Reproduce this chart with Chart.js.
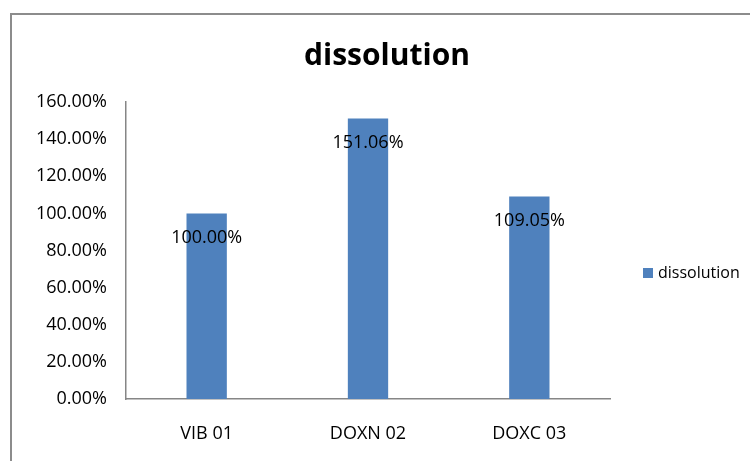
<!DOCTYPE html>
<html>
<head>
<meta charset="utf-8">
<script src="https://cdn.jsdelivr.net/npm/chart.js@4"></script>
<style>
  html, body { margin: 0; padding: 0; background: #ffffff; }
  #wrap { width: 750px; height: 461px; position: relative; }
</style>
</head>
<body>
<div id="wrap"><canvas id="c" width="750" height="461"></canvas></div>
<script>
// Chart content
const chartTitle = 'dissolution';
const seriesName = 'dissolution';
const categories = ['VIB 01', 'DOXN 02', 'DOXC 03'];
const dissolution = [100.00, 151.06, 109.05];
const yTickValues = [0, 20, 40, 60, 80, 100, 120, 140, 160];

const FONT = '"Open Sans", "DejaVu Sans", sans-serif';
const BAR_COLOR = '#4F81BD';
const AXIS_COLOR = '#868686';

const fmtPct = v => v.toFixed(2) + '%';

// Frame, title, legend and value labels drawn on top of the bar chart
const decorations = {
  id: 'decorations',
  beforeDraw(chart) {
    const ctx = chart.ctx;
    ctx.save();
    ctx.fillStyle = '#ffffff';
    ctx.fillRect(0, 0, chart.width, chart.height);
    ctx.strokeStyle = '#8c8c8c';
    ctx.lineWidth = 2;
    ctx.beginPath();
    ctx.moveTo(11, chart.height);
    ctx.lineTo(11, 14);
    ctx.lineTo(chart.width, 14);
    ctx.stroke();
    ctx.restore();
  },
  afterDraw(chart) {
    const ctx = chart.ctx;
    ctx.save();
    // title
    ctx.fillStyle = '#000000';
    ctx.font = 'bold 30px ' + FONT;
    ctx.textAlign = 'center';
    ctx.textBaseline = 'middle';
    ctx.fillText(chartTitle, 387, 56);

    // value labels
    ctx.font = '18px ' + FONT;
    const meta = chart.getDatasetMeta(0);
    meta.data.forEach((bar, i) => {
      ctx.fillText(fmtPct(dissolution[i]), bar.x, bar.y + 24);
    });

    // legend
    ctx.fillStyle = BAR_COLOR;
    ctx.fillRect(643, 268, 10, 10);
    ctx.fillStyle = '#000000';
    ctx.font = '16px ' + FONT;
    ctx.textAlign = 'left';
    ctx.fillText(seriesName, 658, 273);
    ctx.restore();
  }
};

new Chart(document.getElementById('c'), {
  type: 'bar',
  data: {
    labels: categories,
    datasets: [{
      label: seriesName,
      data: dissolution,
      backgroundColor: BAR_COLOR,
      borderWidth: 0,
      categoryPercentage: 1,
      barPercentage: 0.25
    }]
  },
  options: {
    responsive: false,
    animation: false,
    devicePixelRatio: 1,
    layout: { padding: { left: 0, top: 102, right: 140, bottom: 0 } },
    plugins: {
      legend: { display: false },
      title: { display: false },
      tooltip: { enabled: false }
    },
    scales: {
      x: {
        grid: { display: false, drawTicks: false },
        border: { display: true, color: AXIS_COLOR, width: 1.5 },
        ticks: { color: '#000000', font: { family: FONT, size: 18 }, padding: 24 },
        afterFit(scale) { scale.height = 62; }
      },
      y: {
        min: 0,
        max: 160,
        grid: { display: false, drawTicks: false },
        border: { display: true, color: AXIS_COLOR, width: 1.5 },
        ticks: {
          color: '#000000',
          font: { family: FONT, size: 18 },
          padding: 19,
          callback: v => fmtPct(v)
        },
        afterBuildTicks(scale) { scale.ticks = yTickValues.map(v => ({ value: v })); },
        afterFit(scale) { scale.width = 126; }
      }
    }
  },
  plugins: [decorations]
});
</script>
</body>
</html>
